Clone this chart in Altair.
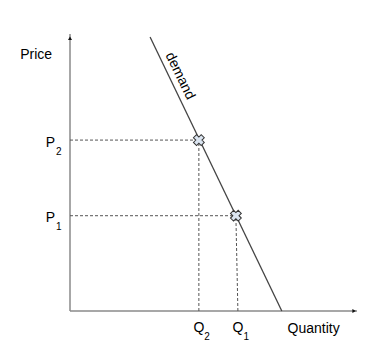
import altair as alt
import pandas as pd

# Conceptual values (axis units 0..10)
demand_q = [2.79, 7.38]
demand_p = [9.89, 0.0]
point_labels = ["1", "2"]
point_q = [5.78, 4.49]
point_q_base = [5.85, 4.49]
point_p = [3.44, 6.17]

X = alt.Scale(domain=[0, 10], nice=False, zero=False)
Y = alt.Scale(domain=[0, 10], nice=False, zero=False)
FONT = "Liberation Sans"
TXT = "#000"

demand = pd.DataFrame({"q": demand_q, "p": demand_p})
pts = pd.DataFrame({"lab": point_labels, "q": point_q, "qb": point_q_base, "p": point_p, "zero": [0, 0]})
axes = pd.DataFrame({"x1": [0, 0], "y1": [0, 0], "x2": [0, 10], "y2": [10, 0]})
heads = pd.DataFrame({"q": [0, 9.9], "p": [9.85, 0], "shape": ["triangle-up", "triangle-right"]})

def xe(f): return alt.X(f, type="quantitative", scale=X, axis=None)
def ye(f): return alt.Y(f, type="quantitative", scale=Y, axis=None)

axis_lines = alt.Chart(axes).mark_rule(color="#8a8a8a", strokeWidth=1.5).encode(
    x=xe("x1"), y=ye("y1"), x2="x2", y2="y2")
arrows = alt.Chart(heads).mark_point(filled=True, color="#111", size=16, opacity=1).encode(
    x=xe("q"), y=ye("p"), shape=alt.Shape("shape:N", scale=None))

hdash = alt.Chart(pts).mark_rule(color="#555", strokeDash=[3, 2], strokeWidth=1).encode(
    x=xe("zero"), x2="q", y=ye("p"))
vdash = alt.Chart(pts).mark_rule(color="#555", strokeDash=[3, 2], strokeWidth=1).encode(
    x=xe("qb"), x2="q", y=ye("zero"), y2="p")

dline = alt.Chart(demand).mark_line(color="#444", strokeWidth=1.3).encode(
    x=xe("q"), y=ye("p"))

markers = alt.Chart(pts).mark_point(shape="cross", angle=45, filled=True, fill="#dbe5f1",
                                    stroke="#333", strokeWidth=1, size=120, opacity=1).encode(
    x=xe("q"), y=ye("p"))

plab = alt.Chart(pts).mark_text(font=FONT, fontSize=14, align="right", baseline="alphabetic",
                                dx=-15, dy=6.5, color=TXT).encode(
    x=xe("zero"), y=ye("p"), text=alt.value("P"))
psub = alt.Chart(pts).mark_text(font=FONT, fontSize=10, align="left", baseline="alphabetic",
                                dx=-14, dy=14.5, color=TXT).encode(
    x=xe("zero"), y=ye("p"), text="lab:N")
qlab = alt.Chart(pts).mark_text(font=FONT, fontSize=14, align="center", baseline="alphabetic",
                                dx=0, dy=21, color=TXT).encode(
    x=xe("qb"), y=ye("zero"), text=alt.value("Q"))
qsub = alt.Chart(pts).mark_text(font=FONT, fontSize=10, align="left", baseline="alphabetic",
                                dx=5.5, dy=28.5, color=TXT).encode(
    x=xe("qb"), y=ye("zero"), text="lab:N")

titles = alt.Chart(pd.DataFrame({"t": ["Price", "Quantity"], "q": [-1.18, 8.49], "p": [9.10, -0.79]})).mark_text(
    font=FONT, fontSize=14, baseline="alphabetic", color=TXT).encode(x=xe("q"), y=ye("p"), text="t:N")

dtext = alt.Chart(pd.DataFrame({"t": ["demand"], "q": [3.83], "p": [8.48]})).mark_text(
    font=FONT, fontSize=14, angle=64, color=TXT).encode(x=xe("q"), y=ye("p"), text="t:N")

chart = alt.layer(axis_lines, hdash, vdash, dline, markers, arrows, plab, psub, qlab, qsub, titles, dtext).properties(
    width=287, height=277,
    padding={"left": 70, "top": 34, "right": 19, "bottom": 43},
    autosize=alt.AutoSizeParams(type="none"),
    background="white",
).configure_view(stroke=None)

chart.save("out.html", embed_options={"renderer": "svg", "actions": False})
